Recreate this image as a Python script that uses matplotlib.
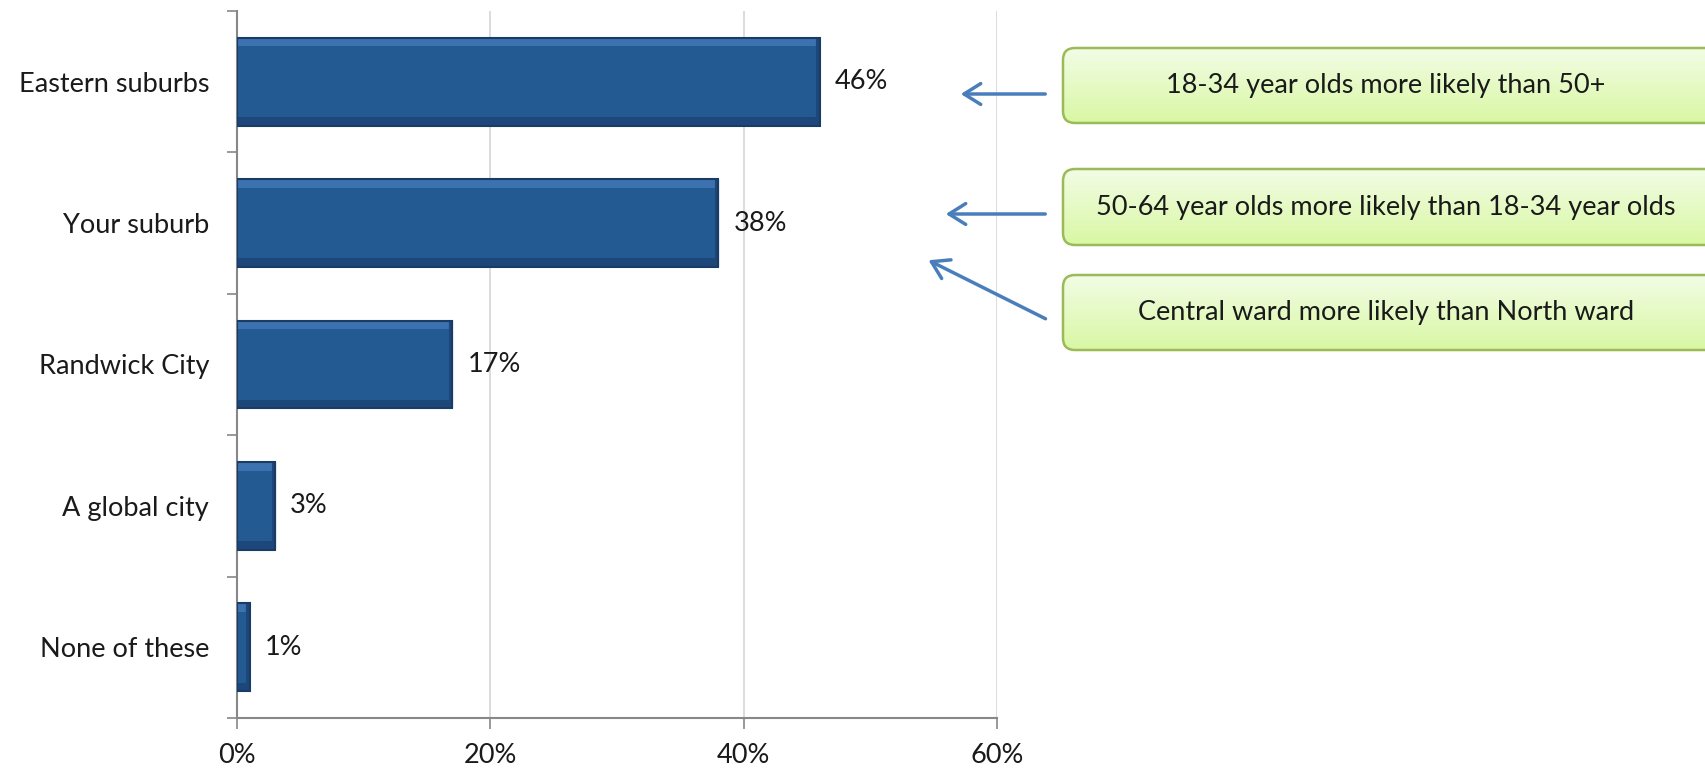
import matplotlib.pyplot as plt
import numpy as np
from matplotlib.patches import FancyBboxPatch, FancyArrowPatch

# data
categories = ['Eastern suburbs', 'Your suburb', 'Randwick City', 'A global city', 'None of these']
values = [46, 38, 17, 3, 1]
x_ticks = [0, 20, 40, 60]
callouts = ['18-34 year olds more likely than 50+',
            '50-64 year olds more likely than 18-34 year olds',
            'Central ward more likely than North ward']

plt.rcParams['font.family'] = ['Lato', 'DejaVu Sans']
FS = 19.5

W, H = 1706, 768
fig = plt.figure(figsize=(W / 100, H / 100), dpi=100)
ax = fig.add_axes([237 / W, 1 - 718 / H, (997 - 237) / W, (718 - 11) / H])

y = np.arange(len(categories))
bar_h = 0.62
bev = 0.06
ax.barh(y, values, height=bar_h, color='#245a92', zorder=3)
# bevel: lighter top band, darker bottom band and right end
ax.barh(y - bar_h / 2 + bev / 2, values, height=bev, color='#3d72b0', zorder=4)
ax.barh(y + bar_h / 2 - bev / 2, values, height=bev, color='#1d477a', zorder=4)
ax.barh(y, values, height=bar_h, color='none', edgecolor='#183c64', linewidth=1.5, zorder=5)
for yi, v in zip(y, values):
    ax.vlines(v - 0.1, yi - bar_h / 2, yi + bar_h / 2, color='#1d477a', lw=3, zorder=4)
    ax.text(v + 1.2, yi, f'{v}%', va='center', ha='left', fontsize=FS, color='#1a1a1a')

ax.set_ylim(len(categories) - 0.5, -0.5)
ax.set_xlim(0, 60)
ax.set_yticks(y)
ax.set_yticklabels(categories, fontsize=FS, color='#1a1a1a')
ax.set_yticks(np.arange(-0.5, len(categories), 1), minor=True)
ax.tick_params(axis='y', which='major', length=0, pad=20)
ax.tick_params(axis='y', which='minor', length=7, color='#888888', width=1.2)
ax.set_xticks(x_ticks)
ax.set_xticklabels([f'{t}%' for t in x_ticks], fontsize=FS, color='#1a1a1a')
ax.tick_params(axis='x', length=8, color='#888888', width=1.2, pad=10)
ax.grid(axis='x', color='#d9d9d9', lw=1.3, zorder=0)
for s in ['top', 'right']:
    ax.spines[s].set_visible(False)
for s in ['left', 'bottom']:
    ax.spines[s].set_color('#888888')
    ax.spines[s].set_linewidth(1.5)

# overlay in pixel coordinates for callouts
ov = fig.add_axes([0, 0, 1, 1], facecolor='none')

boxes = [(48, 123), (169, 245), (275, 350)]
grad = np.linspace(0, 1, 100).reshape(-1, 1)
top_c = np.array([0.95, 0.99, 0.90])
bot_c = np.array([0.85, 0.97, 0.64])
img = top_c + (bot_c - top_c) * grad[..., None]
for (y0, y1), txt in zip(boxes, callouts):
    patch = FancyBboxPatch((1063, y0), 660, y1 - y0,
                           boxstyle='round,pad=0,rounding_size=12',
                           facecolor='none', edgecolor='#9bbb59', lw=1.8, zorder=5)
    ov.add_patch(patch)
    im = ov.imshow(img, extent=(1063, 1723, y1, y0), aspect='auto', zorder=4)
    im.set_clip_path(patch)
    ov.text(1386, (y0 + y1) / 2, txt, ha='center', va='center', fontsize=FS,
            color='#1a1a1a', zorder=6)
ov.set_xlim(0, W)
ov.set_ylim(H, 0)
ov.axis('off')

arrows = [((1048, 94), (958, 94)), ((1048, 214), (943, 214)), ((1048, 320), (926, 259))]
for start, end in arrows:
    ov.add_patch(FancyArrowPatch(start, end, arrowstyle='->,head_length=8,head_width=5',
                                 color='#4a7ebb', lw=2.5, mutation_scale=1.5, zorder=6))

fig.savefig('out.png', dpi=100)
